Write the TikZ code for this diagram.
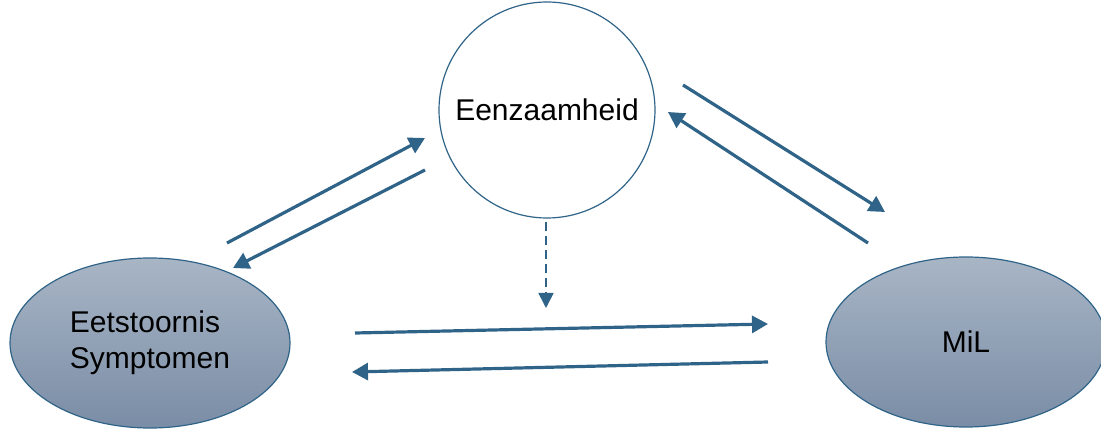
\documentclass[tikz,border=0pt]{standalone}
\usepackage{fontspec}
\setmainfont{Liberation Sans}
\usetikzlibrary{shapes.geometric,arrows.meta}
\definecolor{linkblue}{HTML}{2F6488}
\definecolor{fillhi}{HTML}{A8B5C5}
\definecolor{filllo}{HTML}{7A8DA6}
\tikzset{
  state/.style={ellipse, draw=linkblue, line width=1.2pt, minimum width=280pt,
    minimum height=170pt, inner sep=0pt, top color=fillhi, bottom color=filllo,
    font=\fontsize{30}{36}\selectfont, align=left},
  hub/.style={circle, draw=linkblue, line width=1.2pt, minimum size=216pt,
    inner sep=0pt, fill=white, font=\fontsize{30}{36}\selectfont},
  link/.style={draw=linkblue, line width=3.2pt, -{Triangle[length=16pt,width=17pt]}},
  weak/.style={draw=linkblue, line width=1.6pt, dash pattern=on 9pt off 5pt,
    -{Triangle[length=15pt,width=15pt]}}
}
\begin{document}
\begin{tikzpicture}[x=1pt,y=-1pt]
\useasboundingbox (0,0) rectangle (1101,430);
\node[hub] (ez) at (547,110) {Eenzaamheid};
\node[state] (es) at (150,343) {Eetstoornis\\Symptomen};
\node[state] (mil) at (966,342) {MiL};
% arrow end points
\coordinate (a1) at (227,243); \coordinate (b1) at (425,138);
\coordinate (a2) at (425,170); \coordinate (b2) at (233,268);
\coordinate (a3) at (683,85);  \coordinate (b3) at (885,212);
\coordinate (a4) at (868,243); \coordinate (b4) at (668,112);
\coordinate (a5) at (355,333); \coordinate (b5) at (768,324);
\coordinate (a6) at (768,362); \coordinate (b6) at (352,372);
\coordinate (a7) at (546,222); \coordinate (b7) at (546,308);
\draw[link] (a1) -- (b1);
\draw[link] (a2) -- (b2);
\draw[link] (a3) -- (b3);
\draw[link] (a4) -- (b4);
\draw[link] (a5) -- (b5);
\draw[link] (a6) -- (b6);
\draw[weak] (a7) -- (b7);
\end{tikzpicture}
\end{document}
